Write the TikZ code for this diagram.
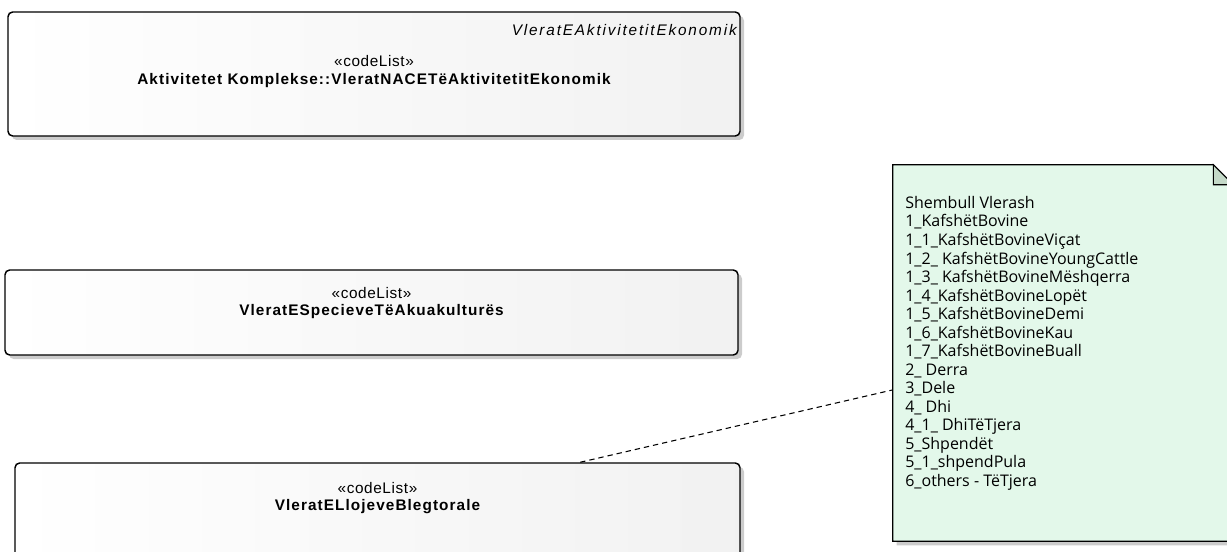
\documentclass[tikz,border=0pt]{standalone}
\usepackage{fontspec}
\setmainfont{Liberation Sans}
\newfontfamily\notefont{Open Sans}
\usetikzlibrary{shadows,calc}
\pgfdeclarehorizontalshading{boxshade}{100bp}{color(0bp)=(black!11); color(25bp)=(white); color(100bp)=(black!8)}
\definecolor{notefill}{RGB}{227,248,234}
\definecolor{notefold}{RGB}{196,217,200}
\begin{document}
\begin{tikzpicture}[x=0.75pt,y=-0.75pt]
\tikzstyle{every node}+=[inner sep=0pt]
\tikzstyle{codelist}=[draw=black, line width=1.1pt, rounded corners=3.5pt, shading=boxshade, drop shadow={shadow xshift=3pt, shadow yshift=-3pt, fill=black!20, opacity=1}]
\tikzstyle{stereo}=[font=\fontsize{11.5}{13}\selectfont\addfontfeature{LetterSpace=4}]
\tikzstyle{cname}=[font=\fontsize{11.5}{13}\selectfont\bfseries\addfontfeature{LetterSpace=7}]
\useasboundingbox (0,0) rectangle (1227,552);
\node [codelist, minimum width=549pt, minimum height=93pt] (box1) at (374,74) {};
\node [anchor=east, font=\fontsize{11.5}{13}\selectfont\itshape\addfontfeature{LetterSpace=12}] (tag1) at (737,30) {VleratEAktivitetitEkonomik};
\node [stereo] (st1) at (374,61) {«codeList»};
\node [cname] (nm1) at (374,81) {Aktivitetet Komplekse::VleratNACETëAktivitetitEkonomik};
\node [codelist, minimum width=549.75pt, minimum height=63.75pt] (box2) at (371.5,312.5) {};
\node [stereo] (st2) at (371.5,293) {«codeList»};
\node [cname] (nm2) at (371.5,312) {VleratESpecieveTëAkuakulturës};
\node [codelist, minimum width=543.75pt, minimum height=75pt] (box3) at (377.5,513) {};
\node [stereo] (st3) at (377.5,488) {«codeList»};
\node [cname] (nm3) at (377.5,507) {VleratELlojeveBlegtorale};
\node [minimum width=255pt, minimum height=282pt] (note) at (1063,353) {};
\path [fill=notefill, draw=black, line width=0.8pt, drop shadow={shadow xshift=3pt, shadow yshift=-3pt, fill=black!20, opacity=1}] (note.north west) -- ($(note.north east)+(-20,0)$) -- ($(note.north east)+(0,20)$) -- (note.south east) -- (note.south west) -- cycle;
\filldraw [fill=notefold, draw=black, line width=0.8pt] ($(note.north east)+(-20,0)$) -- ($(note.north east)+(-20,20)$) -- ($(note.north east)+(0,20)$) -- cycle;
\node [anchor=north west, align=left, font=\notefont\fontsize{12}{13.9}\selectfont] (notetext) at (905,196) {Shembull Vlerash\\1\_KafshëtBovine\\1\_1\_KafshëtBovineViçat\\1\_2\_ KafshëtBovineYoungCattle\\1\_3\_ KafshëtBovineMëshqerra\\1\_4\_KafshëtBovineLopët\\1\_5\_KafshëtBovineDemi\\1\_6\_KafshëtBovineKau\\1\_7\_KafshëtBovineBuall\\2\_ Derra\\3\_Dele\\4\_ Dhi\\4\_1\_ DhiTëTjera\\5\_Shpendët\\5\_1\_shpendPula\\6\_others - TëTjera};
\draw [black, dash pattern=on 4pt off 3pt, line width=0.8pt] ($(box3.north west)!0.779!(box3.north east)$) -- ($(note.north west)!0.598!(note.south west)$);
\end{tikzpicture}
\end{document}
